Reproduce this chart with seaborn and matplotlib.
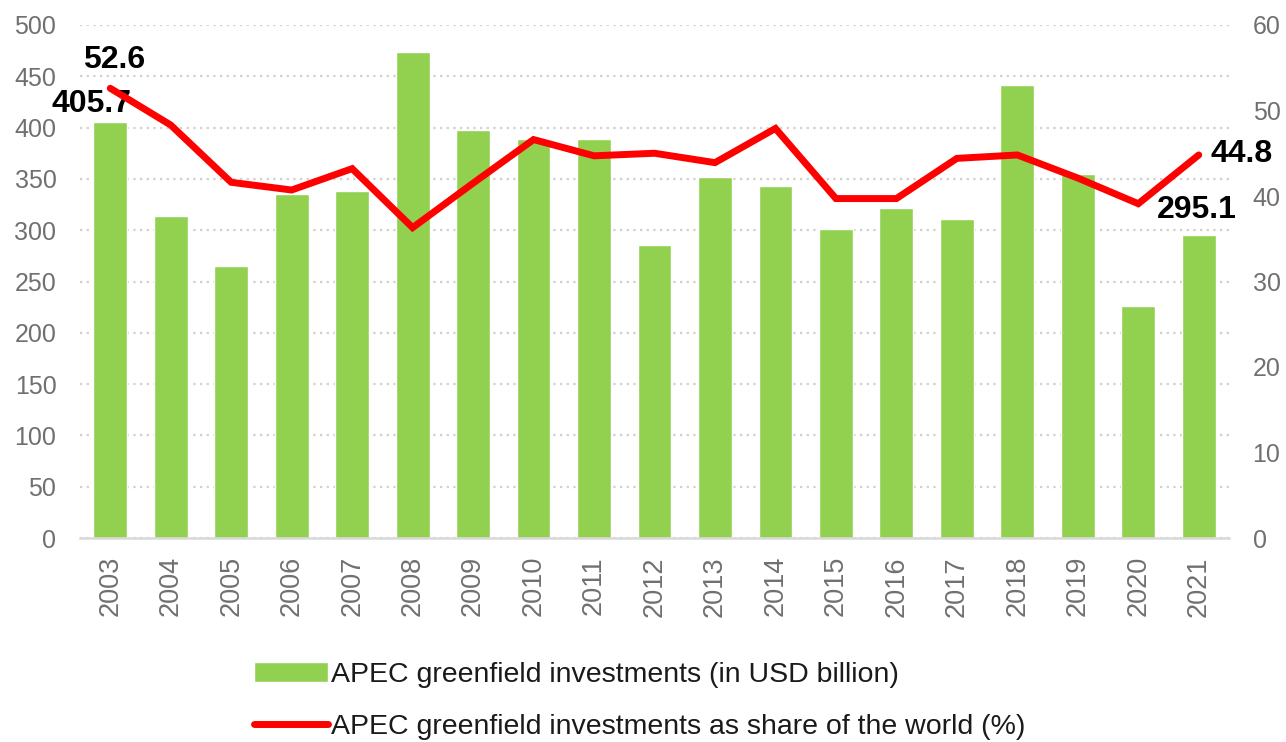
import numpy as np
import pandas as pd
import matplotlib
matplotlib.use("Agg")
import matplotlib.pyplot as plt
import seaborn as sns

years = ["2003", "2004", "2005", "2006", "2007", "2008", "2009", "2010", "2011", "2012",
         "2013", "2014", "2015", "2016", "2017", "2018", "2019", "2020", "2021"]
investments = [405.7, 314.1, 265.4, 335.0, 338.2, 473.4, 397.7, 389.2, 389.0, 285.6,
               351.9, 343.4, 300.9, 321.3, 310.9, 441.5, 355.1, 226.4, 295.1]
share = [52.6, 48.3, 41.6, 40.7, 43.2, 36.3, 41.5, 46.6, 44.7, 45.0,
         43.9, 47.9, 39.7, 39.7, 44.4, 44.8, 42.1, 39.1, 44.8]
bar_label = "APEC greenfield investments (in USD billion)"
line_label = "APEC greenfield investments as share of the world (%)"
left_ticks = [0, 50, 100, 150, 200, 250, 300, 350, 400, 450, 500]
right_ticks = [0, 10, 20, 30, 40, 50, 60]

sns.set_theme(style="white")
plt.rcParams['font.family'] = ['Liberation Sans', 'DejaVu Sans']

GREEN = "#92D050"
RED = "#FF0000"
GRAY_TXT = "#707070"
GRID = "#D0D0D0"

df = pd.DataFrame({"year": years, "inv": investments, "share": share,
                   "pos": np.arange(len(years))})

fig = plt.figure(figsize=(12.86, 7.42), dpi=100)
ax = fig.add_axes([80/1286, 1-538/742, (1229-80)/1286, (538-25)/742])

sns.barplot(data=df, x="year", y="inv", color=GREEN, width=0.56, ax=ax,
            saturation=1, zorder=2, label=bar_label)
ax.set_xlim(-0.5, len(years)-0.5)
ax.set_ylim(0, 500)
ax.set_yticks(left_ticks)
ax.yaxis.grid(True, color=GRID, linestyle=(0, (1, 2)), linewidth=1.6, zorder=0)
ax.set_axisbelow(True)
ax.set_xlabel("")
ax.set_ylabel("")
for s in ["left", "right", "top"]:
    ax.spines[s].set_visible(False)
ax.spines["bottom"].set_color("#D9D9D9")
ax.spines["bottom"].set_linewidth(1.8)
ax.tick_params(axis="y", length=0, pad=17, labelsize=18, labelcolor=GRAY_TXT)
ax.tick_params(axis="x", length=0, pad=13, labelsize=19.5, labelcolor=GRAY_TXT, rotation=90)

ax2 = ax.twinx()
sns.lineplot(data=df, x="pos", y="share", color=RED, linewidth=5, ax=ax2,
             label=line_label, legend=False, solid_capstyle="round",
             solid_joinstyle="miter")
ax2.set_ylim(0, 60)
ax2.set_yticks(right_ticks)
ax2.set_xlim(-0.5, len(years)-0.5)
ax2.set_ylabel("")
ax2.set_xlabel("")
for s in ["left", "right", "top", "bottom"]:
    ax2.spines[s].set_visible(False)
ax2.tick_params(axis="y", length=0, pad=17, labelsize=18, labelcolor=GRAY_TXT)
ax2.grid(False)

# annotations
bold = dict(fontsize=23, fontweight="bold", color="black", ha="center", va="center")
ax2.annotate(f"{share[0]}", xy=(0, share[0]), xytext=(4, 28), textcoords="offset pixels", **bold)
ax2.annotate(f"{share[-1]}", xy=(len(years)-1, share[-1]), xytext=(43, 1), textcoords="offset pixels", **bold)
ax.annotate(f"{investments[0]}", xy=(0, investments[0]), xytext=(-19, 18), textcoords="offset pixels", **bold)
ax.annotate(f"{investments[-1]}", xy=(len(years)-1, investments[-1]), xytext=(-2, 25), textcoords="offset pixels", **bold)

# legend
h1, l1 = ax.get_legend_handles_labels()
h2, l2 = ax2.get_legend_handles_labels()
if ax.get_legend():
    ax.get_legend().remove()
leg = fig.legend(h1 + h2, l1 + l2, loc="upper left", bbox_to_anchor=(254/1286, 1-662/742),
                 frameon=False, fontsize=20.5, handlelength=2.6, handleheight=0.7,
                 handletextpad=0.12, labelspacing=0.9, borderpad=0, borderaxespad=0)
for t in leg.get_texts():
    t.set_color("#1A1A1A")

fig.savefig("out.png", dpi=100)
